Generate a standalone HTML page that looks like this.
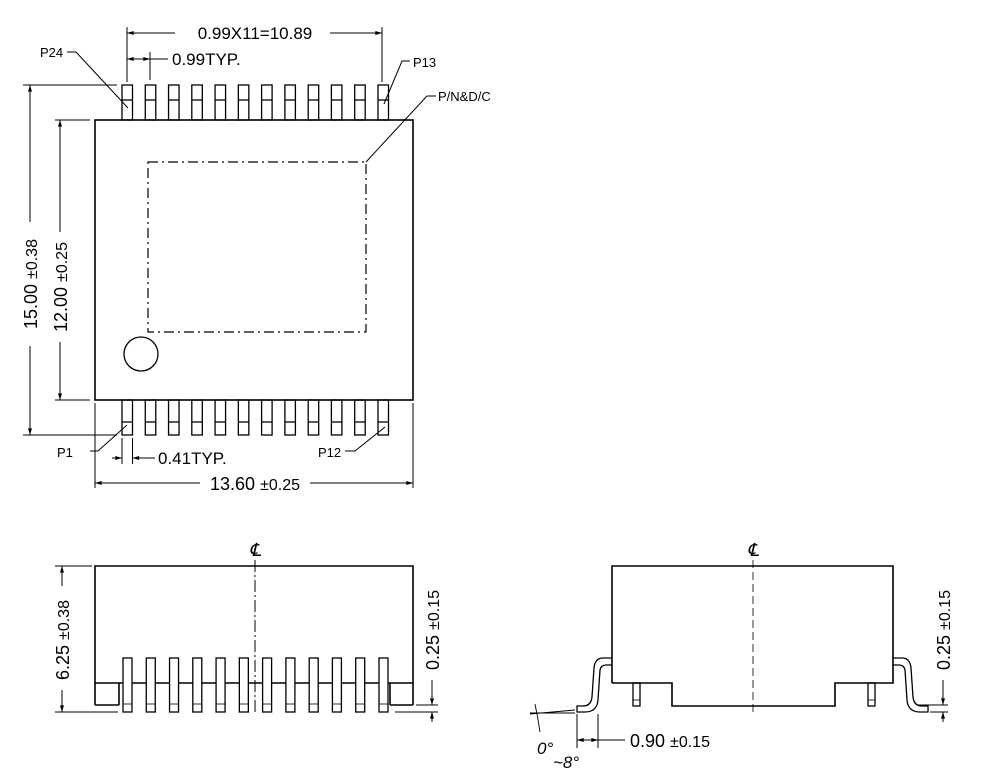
<!DOCTYPE html>
<html><head><style>html,body{margin:0;padding:0;background:#fff}svg{display:block}</style></head><body>
<svg width="982" height="782" viewBox="0 0 982 782" xmlns="http://www.w3.org/2000/svg" font-family="Liberation Sans, Arial, sans-serif">
<defs>
<marker id="a" viewBox="0 0 10 6" refX="10" refY="3" markerWidth="7" markerHeight="4" orient="auto-start-reverse"><path d="M0,0L10,3L0,6z" fill="#000"/></marker>
</defs>
<g stroke="#000" fill="none" stroke-width="1.3">
<rect x="95" y="120" width="318" height="280" stroke-width="1.6"/>
<g id="tp">
<rect x="122" y="85" width="10.5" height="35"/><line x1="122" y1="100" x2="132.5" y2="100"/>
<rect x="122" y="400" width="10.5" height="35"/><line x1="122" y1="422" x2="132.5" y2="422"/>
</g>
<use href="#tp" x="23.27"/><use href="#tp" x="46.54"/><use href="#tp" x="69.8"/><use href="#tp" x="93.07"/><use href="#tp" x="116.34"/><use href="#tp" x="139.6"/><use href="#tp" x="162.9"/><use href="#tp" x="186.2"/><use href="#tp" x="209.4"/><use href="#tp" x="232.7"/><use href="#tp" x="256"/>
<rect x="148" y="162" width="218" height="170" stroke-dasharray="10,4,2,4" stroke-width="1.2"/>
<circle cx="141" cy="354" r="17"/>
<line x1="127" y1="27" x2="127" y2="82" stroke-width="1"/>
<line x1="382" y1="27" x2="382" y2="82" stroke-width="1"/>
<line x1="150" y1="52" x2="150" y2="80" stroke-width="1"/>
<line x1="127" y1="33" x2="175" y2="33" stroke-width="1" marker-start="url(#a)"/>
<line x1="330" y1="33" x2="382" y2="33" stroke-width="1" marker-end="url(#a)"/>
<line x1="127" y1="59" x2="150" y2="59" stroke-width="1" marker-start="url(#a)" marker-end="url(#a)"/>
<line x1="150" y1="59" x2="168" y2="59" stroke-width="1"/>
<polyline points="67,52 76,52 128,108" stroke-width="1"/>
<polyline points="410,61 402,61 384,104" stroke-width="1"/>
<polyline points="436,96 427,96 366,162" stroke-width="1"/>
<polyline points="90,451 98,451 127,425" stroke-width="1"/>
<polyline points="345,451 355,451 385,427" stroke-width="1"/>
<line x1="23" y1="85" x2="117" y2="85" stroke-width="1"/>
<line x1="23" y1="435" x2="117" y2="435" stroke-width="1"/>
<line x1="55" y1="120" x2="90" y2="120" stroke-width="1"/>
<line x1="55" y1="400" x2="90" y2="400" stroke-width="1"/>
<line x1="30" y1="85" x2="30" y2="222" stroke-width="1" marker-start="url(#a)"/>
<line x1="30" y1="346" x2="30" y2="435" stroke-width="1" marker-end="url(#a)"/>
<line x1="60" y1="120" x2="60" y2="232" stroke-width="1" marker-start="url(#a)"/>
<line x1="60" y1="342" x2="60" y2="400" stroke-width="1" marker-end="url(#a)"/>
<line x1="95" y1="403" x2="95" y2="488" stroke-width="1"/>
<line x1="413" y1="403" x2="413" y2="488" stroke-width="1"/>
<line x1="122" y1="438" x2="122" y2="464" stroke-width="1"/>
<line x1="132.5" y1="438" x2="132.5" y2="464" stroke-width="1"/>
<line x1="112" y1="458" x2="122" y2="458" stroke-width="1" marker-end="url(#a)"/>
<line x1="155" y1="458" x2="132.5" y2="458" stroke-width="1" marker-end="url(#a)"/>
<line x1="95" y1="483" x2="200" y2="483" stroke-width="1" marker-start="url(#a)"/>
<line x1="310" y1="483" x2="413" y2="483" stroke-width="1" marker-end="url(#a)"/>

<polyline points="95,705 95,566 413,566 413,705" stroke-width="1.6"/>
<line x1="95" y1="683" x2="413" y2="683" stroke-width="1.6"/>
<line x1="95" y1="705" x2="119" y2="705" stroke-width="1.6"/>
<line x1="119" y1="683" x2="119" y2="705" stroke-width="1.6"/>
<line x1="390" y1="683" x2="390" y2="705" stroke-width="1.6"/>
<line x1="390" y1="705" x2="413" y2="705" stroke-width="1.6"/>
<g id="sp"><rect x="123" y="658" width="9" height="54" fill="#fff"/><line x1="123" y1="704" x2="132" y2="704" stroke-width="0.8"/></g>
<use href="#sp" x="23.27"/><use href="#sp" x="46.54"/><use href="#sp" x="69.8"/><use href="#sp" x="93.07"/><use href="#sp" x="116.34"/><use href="#sp" x="139.6"/><use href="#sp" x="162.9"/><use href="#sp" x="186.2"/><use href="#sp" x="209.4"/><use href="#sp" x="232.7"/><use href="#sp" x="256"/>
<line x1="255" y1="560" x2="255" y2="714" stroke-width="1" stroke-dasharray="12,3,2,3"/>
<line x1="55" y1="566" x2="92" y2="566" stroke-width="1"/>
<line x1="55" y1="712" x2="118" y2="712" stroke-width="1"/>
<line x1="62" y1="566" x2="62" y2="586" stroke-width="1" marker-start="url(#a)"/>
<line x1="62" y1="690" x2="62" y2="712" stroke-width="1" marker-end="url(#a)"/>
<line x1="395" y1="712" x2="438" y2="712" stroke-width="1"/>
<line x1="416" y1="705" x2="438" y2="705" stroke-width="1"/>
<line x1="432" y1="680" x2="432" y2="705" stroke-width="1" marker-end="url(#a)"/>
<line x1="432" y1="722" x2="432" y2="712" stroke-width="1" marker-end="url(#a)"/>

<polyline points="612,683 612,566 893,566 893,683 835,683 835,706 672,706 672,683 612,683" stroke-width="1.6"/>
<rect x="633" y="683" width="7" height="23"/><line x1="633" y1="700" x2="640" y2="700" stroke-width="0.8"/>
<rect x="868" y="683" width="7" height="23"/><line x1="868" y1="700" x2="875" y2="700" stroke-width="0.8"/>
<line x1="753" y1="560" x2="753" y2="712" stroke-width="0.8" stroke-dasharray="8,4"/>
<path d="M612,658 H603 Q595,658 594,668 L592,697 Q591,706 583,706 H577 V712 H585 Q597,712 598,700 L600,670 Q601,665 606,665 H612" stroke-width="1.3"/>
<path d="M893,658 H902 Q910,658 911,668 L913,697 Q914,706 922,706 H928 V712 H920 Q908,712 907,700 L905,670 Q904,665 899,665 H893" stroke-width="1.3"/>
<line x1="577" y1="714" x2="577" y2="748" stroke-width="1"/>
<line x1="598" y1="714" x2="598" y2="748" stroke-width="1"/>
<line x1="577" y1="740" x2="598" y2="740" stroke-width="1" marker-start="url(#a)" marker-end="url(#a)"/>
<line x1="598" y1="740" x2="625" y2="740" stroke-width="1"/>
<line x1="530" y1="713" x2="575" y2="713" stroke-width="1"/>
<line x1="530" y1="714" x2="575" y2="710" stroke-width="1"/>
<path d="M535,704 Q538,718 540,732" stroke-width="0.9"/>
<line x1="918" y1="705" x2="948" y2="705" stroke-width="1"/>
<line x1="930" y1="712" x2="948" y2="712" stroke-width="1"/>
<line x1="943" y1="680" x2="943" y2="705" stroke-width="1" marker-end="url(#a)"/>
<line x1="943" y1="722" x2="943" y2="712" stroke-width="1" marker-end="url(#a)"/>
</g>
<g fill="#000">
<text x="255" y="39" font-size="17" text-anchor="middle">0.99X11=10.89</text>
<text x="172" y="65" font-size="17">0.99TYP.</text>
<text x="40" y="57" font-size="13">P24</text>
<text x="413" y="67" font-size="13">P13</text>
<text x="438" y="101" font-size="13">P/N&amp;D/C</text>
<text x="57" y="457" font-size="13">P1</text>
<text x="318" y="457" font-size="13">P12</text>
<text x="158" y="464" font-size="17">0.41TYP.</text>
<text x="255" y="490" font-size="18" text-anchor="middle">13.60 <tspan font-size="16">±0.25</tspan></text>
<text transform="translate(37,284) rotate(-90)" font-size="18" text-anchor="middle">15.00 <tspan font-size="16">±0.38</tspan></text>
<text transform="translate(67,287) rotate(-90)" font-size="18" text-anchor="middle">12.00 <tspan font-size="16">±0.25</tspan></text>
<text transform="translate(69,640) rotate(-90)" font-size="18" text-anchor="middle">6.25 <tspan font-size="16">±0.38</tspan></text>
<text transform="translate(439,630) rotate(-90)" font-size="18" text-anchor="middle">0.25 <tspan font-size="16">±0.15</tspan></text>
<text transform="translate(950,630) rotate(-90)" font-size="18" text-anchor="middle">0.25 <tspan font-size="16">±0.15</tspan></text>
<text x="630" y="747" font-size="18">0.90 <tspan font-size="16">±0.15</tspan></text>
<text x="537" y="754" font-size="17" font-style="italic">0°</text>
<text x="553" y="768" font-size="17" font-style="italic">~8°</text>
<text x="255" y="556" font-size="18" text-anchor="middle" font-family="Liberation Serif, serif" font-style="italic">℄</text>
<text x="753" y="556" font-size="18" text-anchor="middle" font-family="Liberation Serif, serif" font-style="italic">℄</text>
</g>
</svg>
</body></html>
